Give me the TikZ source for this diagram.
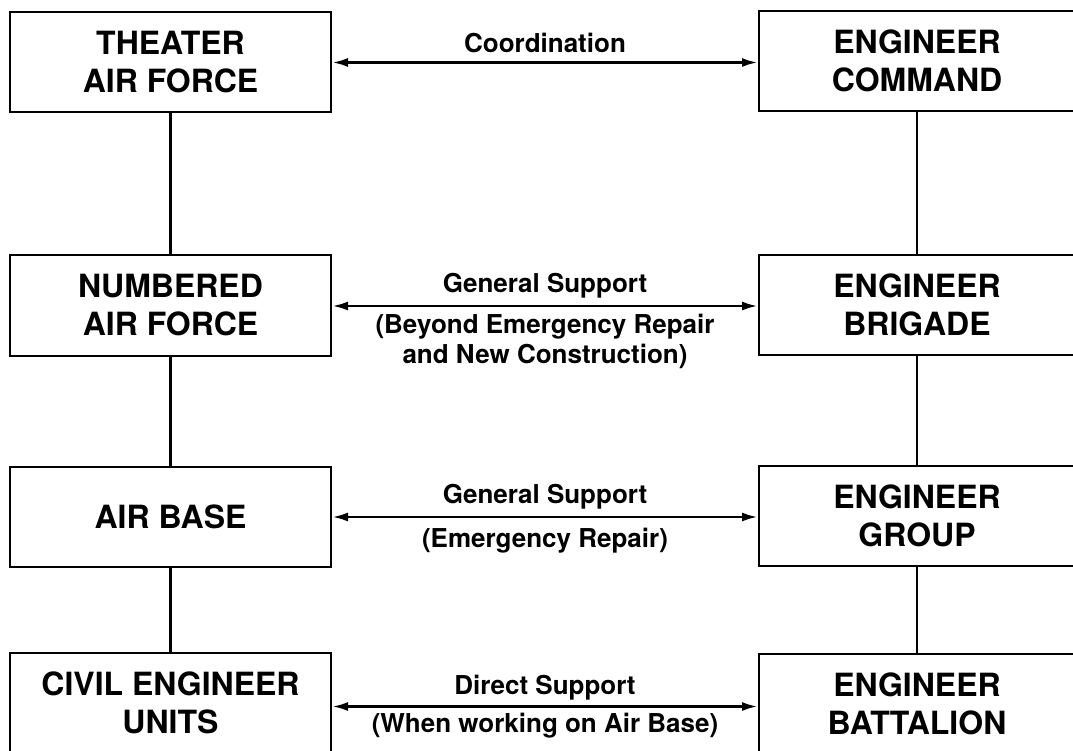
\documentclass[tikz,border=0pt]{standalone}
\usepackage{fontspec}
\setmainfont{TeX Gyre Heros}
\usetikzlibrary{arrows.meta,calc}
\begin{document}
\begin{tikzpicture}[x=1pt,y=-1pt,
  box/.style={draw, line width=2pt, minimum width=321pt, minimum height=100pt, inner sep=0pt, align=center, font=\fontsize{32}{38}\selectfont\bfseries},
  rbox/.style={box, minimum width=316pt},
  link/.style={line width=2.8pt},
  rel/.style={link, {Latex[length=16pt,width=9pt]}-{Latex[length=16pt,width=9pt]}},
  lbl/.style={inner sep=0pt, align=center, font=\fontsize{26}{30}\selectfont\bfseries}]
\useasboundingbox (0,0) rectangle (1073,751);
\clip (0,0) rectangle (1073,751);
\fill[white] (0,0) rectangle (1073,751);
% boxes
\node[box]  (taf) at (170.5,62)   {THEATER\\AIR FORCE};
\node[rbox] (ec)  at (917,61)     {ENGINEER\\COMMAND};
\node[box]  (naf) at (170.5,305.5){NUMBERED\\AIR FORCE};
\node[rbox] (eb)  at (917,305)    {ENGINEER\\BRIGADE};
\node[box]  (ab)  at (170.5,516.5){AIR BASE};
\node[rbox] (eg)  at (917,516)    {ENGINEER\\GROUP};
\node[box]  (ceu) at (170.5,703)  {CIVIL ENGINEER\\UNITS};
\node[rbox] (ebn) at (917,704)    {ENGINEER\\BATTALION};
% vertical links
\draw[link] (taf) -- (naf);
\draw[link] (naf) -- (ab);
\draw[link] (ab) -- (ceu);
\draw[link] (ec) -- (eb);
\draw[link] (eb) -- (eg);
\draw[link] (eg) -- (ebn);
% horizontal relations
\coordinate (a1) at ($(taf.east)+(0,0.5)$);
\coordinate (a2) at ($(naf.east)+(0,0.5)$);
\coordinate (a3) at ($(ab.east)+(0,0.5)$);
\coordinate (a4) at ($(ceu.east)+(0,3.5)$);
\draw[rel] (a1) -- (a1 -| ec.west);
\draw[rel] (a2) -- (a2 -| eb.west);
\draw[rel] (a3) -- (a3 -| eg.west);
\draw[rel] (a4) -- (a4 -| ebn.west);
% labels
\node[lbl, anchor=base] (l1)  at ($(a1)!0.5!(a1 -| ec.west)+(0,-10)$) {Coordination};
\node[lbl, anchor=base] (l2a) at ($(a2)!0.5!(a2 -| eb.west)+(0,-14)$) {General Support};
\node[lbl, anchor=base] (l2b) at ($(a2)!0.5!(a2 -| eb.west)+(0,57)$) {(Beyond Emergency Repair\\and New Construction)};
\node[lbl, anchor=base] (l3a) at ($(a3)!0.5!(a3 -| eg.west)+(0,-14)$) {General Support};
\node[lbl, anchor=base] (l3b) at ($(a3)!0.5!(a3 -| eg.west)+(0,30)$) {(Emergency Repair)};
\node[lbl, anchor=base] (l4a) at ($(a4)!0.5!(a4 -| ebn.west)+(0,-12)$) {Direct Support};
\node[lbl, anchor=base] (l4b) at ($(a4)!0.5!(a4 -| ebn.west)+(0,26)$) {(When working on Air Base)};
\end{tikzpicture}
\end{document}
